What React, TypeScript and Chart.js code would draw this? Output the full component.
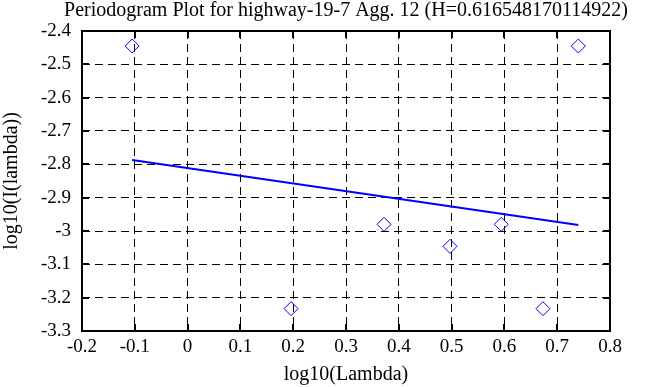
import { useEffect, useRef } from "react";
import { Chart, registerables } from "chart.js";

Chart.register(...registerables);

const TITLE = "Periodogram Plot for highway-19-7 Agg. 12 (H=0.616548170114922)";
const X_LABEL = "log10(Lambda)";
const Y_LABEL = "log10(I(lambda))";

const logLambda = [-0.105, 0.196, 0.372, 0.497, 0.594, 0.673, 0.74];
const logPeriodogram = [-2.445, -3.233, -2.98, -3.046, -2.98, -3.233, -2.445];

const fitX = [-0.105, 0.74];
const fitY = [-2.787, -2.982];

const X_MIN = -0.2;
const X_MAX = 0.8;
const Y_MIN = -3.3;
const Y_MAX = -2.4;
const TICK_STEP = 0.1;

const FONT_FAMILY = '"Liberation Serif", "Times New Roman", serif';
const TICK_SIZE = 19;
const LABEL_SIZE = 20;

const fmt = (v: number | string) => String(+Number(v).toFixed(1));

const framePlugin = {
  id: "frameAndTitle",
  afterDraw(chart: any) {
    const { ctx, chartArea } = chart;
    const { left, right, top, bottom } = chartArea;
    ctx.save();
    // title
    ctx.font = `${LABEL_SIZE}px ${FONT_FAMILY}`;
    ctx.fillStyle = "#000";
    ctx.textAlign = "center";
    ctx.textBaseline = "middle";
    ctx.fillText(TITLE, (left + right) / 2, 10.5);
    // inward tick marks
    ctx.strokeStyle = "#000";
    ctx.lineWidth = 2;
    ctx.beginPath();
    const xs = chart.scales.x;
    const ys = chart.scales.y;
    xs.ticks.forEach((t: any) => {
      const px = Math.round(xs.getPixelForValue(t.value));
      ctx.moveTo(px, bottom);
      ctx.lineTo(px, bottom - 7);
      ctx.moveTo(px, top);
      ctx.lineTo(px, top + 7);
    });
    ys.ticks.forEach((t: any) => {
      const py = Math.round(ys.getPixelForValue(t.value));
      ctx.moveTo(left, py);
      ctx.lineTo(left + 7, py);
      ctx.moveTo(right, py);
      ctx.lineTo(right - 7, py);
    });
    ctx.stroke();
    // frame
    ctx.strokeRect(left, top, right - left, bottom - top);
    ctx.restore();
  },
};

export default function App() {
  const canvasRef = useRef<HTMLCanvasElement | null>(null);

  useEffect(() => {
    const canvas = canvasRef.current;
    if (!canvas) return;
    const tickFont = { family: FONT_FAMILY, size: TICK_SIZE };
    const labelFont = { family: FONT_FAMILY, size: LABEL_SIZE };
    const chart = new Chart(canvas, {
      type: "scatter",
      data: {
        datasets: [
          {
            label: "periodogram",
            data: logLambda.map((x, i) => ({ x, y: logPeriodogram[i] })),
            pointStyle: "rectRot",
            pointRadius: 7,
            pointBorderWidth: 1,
            pointBorderColor: "#0000ff",
            pointBackgroundColor: "rgba(0,0,0,0)",
            showLine: false,
          },
          {
            label: "fit",
            data: fitX.map((x, i) => ({ x, y: fitY[i] })),
            showLine: true,
            borderColor: "#0000ff",
            borderWidth: 2,
            pointRadius: 0,
            fill: false,
          },
        ],
      },
      options: {
        responsive: false,
        animation: false,
        events: [],
        layout: { padding: { top: 31, right: 58, left: 0, bottom: 0 } },
        plugins: {
          legend: { display: false },
          title: { display: false },
          tooltip: { enabled: false },
        },
        scales: {
          x: {
            type: "linear",
            min: X_MIN,
            max: X_MAX,
            ticks: {
              stepSize: TICK_STEP,
              callback: (v: any) => fmt(v),
              font: tickFont,
              color: "#000",
              padding: 5,
              maxRotation: 0,
              autoSkip: false,
            },
            grid: { color: "#000", lineWidth: 1, drawTicks: false },
            border: { display: false, dash: [8, 5] },
            title: {
              display: true,
              text: X_LABEL,
              font: labelFont,
              color: "#000",
              padding: { top: 0, bottom: 0 },
            },
            afterFit: (s: any) => {
              s.height = 56;
            },
          },
          y: {
            type: "linear",
            min: Y_MIN,
            max: Y_MAX,
            ticks: {
              stepSize: TICK_STEP,
              callback: (v: any) => fmt(v),
              font: tickFont,
              color: "#000",
              padding: 11,
              autoSkip: false,
            },
            grid: { color: "#000", lineWidth: 1, drawTicks: false },
            border: { display: false, dash: [8, 5] },
            title: {
              display: true,
              text: Y_LABEL,
              font: labelFont,
              color: "#000",
              padding: { top: 0, bottom: 0 },
            },
            afterFit: (s: any) => {
              s.width = 82;
            },
          },
        },
      },
      plugins: [framePlugin],
    } as any);
    return () => chart.destroy();
  }, []);

  return (
    <div style={{ position: "absolute", left: 0, top: 0, width: 668, height: 387, background: "#fff" }}>
      <canvas ref={canvasRef} width={668} height={387} />
    </div>
  );
}
